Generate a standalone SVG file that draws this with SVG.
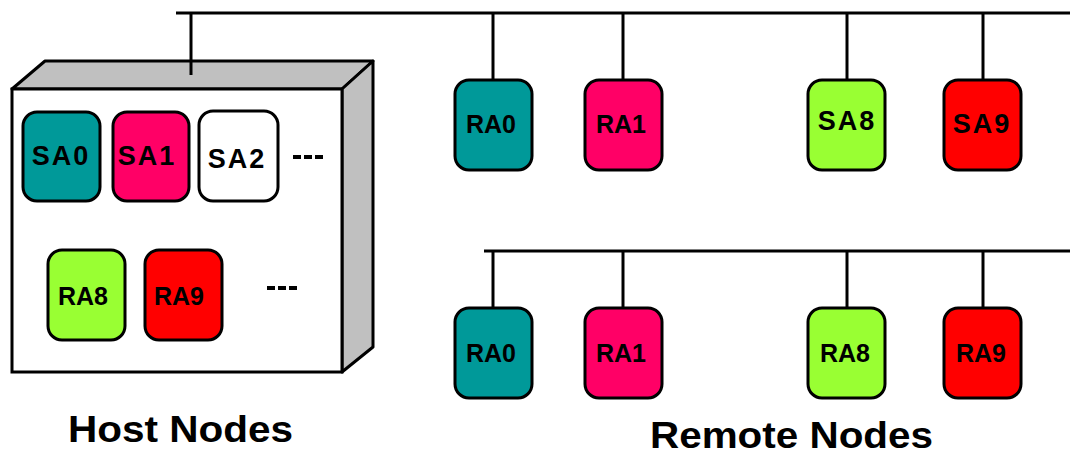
<svg xmlns="http://www.w3.org/2000/svg" width="1070" height="459" viewBox="0 0 1070 459">
<style>
.line{stroke:#000;stroke-width:3;fill:none}
.n{stroke:#000;stroke-width:3}
.teal{fill:#009999}.pink{fill:#FF0066}.green{fill:#99FF33}.red{fill:#FF0000}.white{fill:#FFFFFF}
.ra{font-family:"Liberation Sans",Arial,sans-serif;font-weight:bold;font-size:25px;fill:#000;text-anchor:middle}
.sa{font-family:"Liberation Sans",Arial,sans-serif;font-weight:bold;font-size:27px;letter-spacing:2px;fill:#000;text-anchor:middle}
.title{font-family:"Liberation Sans",Arial,sans-serif;font-weight:bold;font-size:37px;fill:#000}
.dots{stroke:#000;stroke-width:4;stroke-dasharray:8 3}
</style>
<rect width="1070" height="459" fill="#fff"/>
<g id="connectors">
<line class="line" x1="176" y1="13" x2="1070" y2="13"/>
<line class="line" x1="191" y1="13" x2="191" y2="75"/>
<line class="line" x1="493" y1="13" x2="493" y2="80"/>
<line class="line" x1="623" y1="13" x2="623" y2="80"/>
<line class="line" x1="847" y1="13" x2="847" y2="80"/>
<line class="line" x1="983" y1="13" x2="983" y2="80"/>
<line class="line" x1="484" y1="251" x2="1070" y2="251"/>
<line class="line" x1="493" y1="251" x2="493" y2="308"/>
<line class="line" x1="623" y1="251" x2="623" y2="308"/>
<line class="line" x1="847" y1="251" x2="847" y2="308"/>
<line class="line" x1="983" y1="251" x2="983" y2="308"/>
</g>
<g id="host">
<polygon points="12,89 45,61 373,61 342,89" fill="#C0C0C0" stroke="#000" stroke-width="3" stroke-linejoin="round"/>
<polygon points="342,89 373,61 373,347 342,372" fill="#C0C0C0" stroke="#000" stroke-width="3" stroke-linejoin="round"/>
<rect x="12" y="89" width="330" height="283" fill="#fff" stroke="#000" stroke-width="3"/>
<line class="line" x1="191" y1="61" x2="191" y2="75"/>
<g id="h-sa0"><rect class="n teal" x="23" y="112" width="77" height="89" rx="14"/><text class="sa" x="61" y="165">SA0</text></g>
<g id="h-sa1"><rect class="n pink" x="113" y="112" width="76" height="89" rx="14"/><text class="sa" x="147" y="165">SA1</text></g>
<g id="h-sa2"><rect class="n white" x="199" y="111" width="79" height="90" rx="14"/><text class="sa" x="237" y="168">SA2</text></g>
<line class="dots" x1="293" y1="157" x2="326" y2="157"/>
<g id="h-ra8"><rect class="n green" x="48" y="250" width="77" height="90" rx="14"/><text class="ra" x="83" y="305">RA8</text></g>
<g id="h-ra9"><rect class="n red" x="145" y="250" width="77" height="90" rx="14"/><text class="ra" x="179" y="305">RA9</text></g>
<line class="dots" x1="267" y1="288" x2="300" y2="288"/>
</g>
<g id="r1-ra0"><rect class="n teal" x="455" y="80" width="77" height="90" rx="14"/><text class="ra" x="491" y="133">RA0</text></g>
<g id="r1-ra1"><rect class="n pink" x="585" y="80" width="77" height="90" rx="14"/><text class="ra" x="621" y="133">RA1</text></g>
<g id="r1-sa8"><rect class="n green" x="808" y="80" width="77" height="90" rx="14"/><text class="sa" x="847" y="130">SA8</text></g>
<g id="r1-sa9"><rect class="n red" x="944" y="80" width="77" height="90" rx="14"/><text class="sa" x="982" y="133">SA9</text></g>
<g id="r2-ra0"><rect class="n teal" x="455" y="308" width="77" height="90" rx="14"/><text class="ra" x="491" y="362">RA0</text></g>
<g id="r2-ra1"><rect class="n pink" x="585" y="308" width="77" height="90" rx="14"/><text class="ra" x="621" y="362">RA1</text></g>
<g id="r2-ra8"><rect class="n green" x="808" y="308" width="77" height="90" rx="14"/><text class="ra" x="845" y="362">RA8</text></g>
<g id="r2-ra9"><rect class="n red" x="944" y="308" width="77" height="90" rx="14"/><text class="ra" x="981" y="362">RA9</text></g>
<text class="title" x="68" y="442" textLength="225" lengthAdjust="spacingAndGlyphs">Host Nodes</text>
<text class="title" x="650" y="448" textLength="283" lengthAdjust="spacingAndGlyphs">Remote Nodes</text>
</svg>
